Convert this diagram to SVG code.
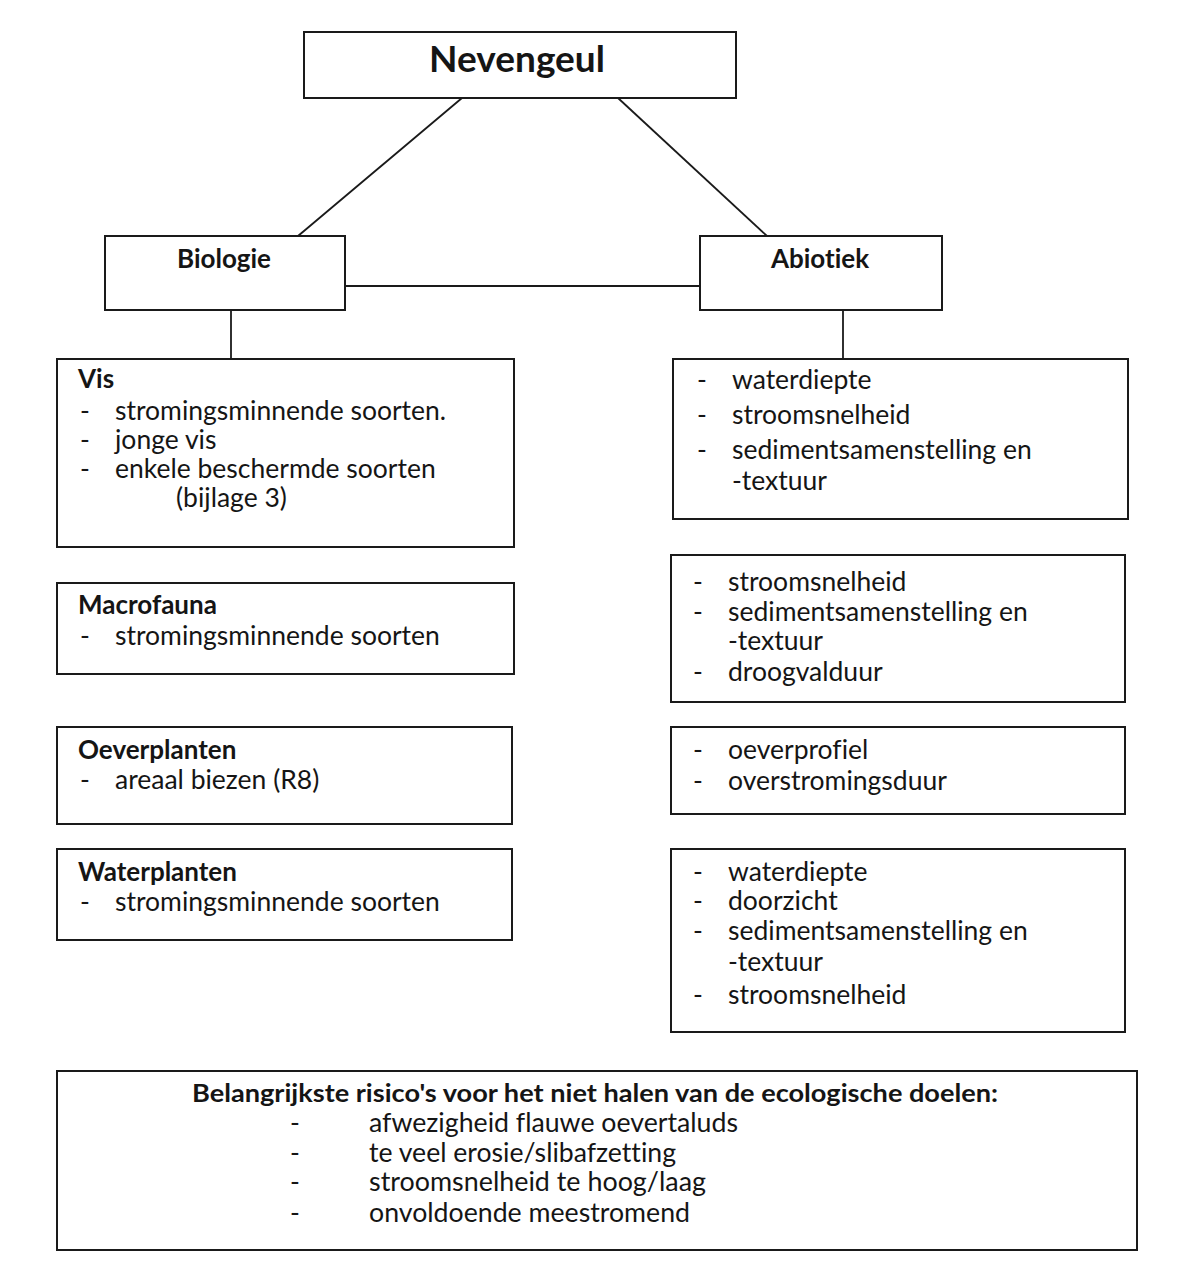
<svg xmlns="http://www.w3.org/2000/svg" width="1185" height="1265" viewBox="0 0 1185 1265">
<style>
.box{fill:#fff;stroke:#1a1a1a;stroke-width:2}
.ln{stroke:#1a1a1a;stroke-width:1.8;fill:none}
text{font-family:Lato,"Open Sans","Liberation Sans",sans-serif;fill:#151515;font-variant-ligatures:none}
.t{font-size:26.5px}
.h{font-size:26px;font-weight:bold}
</style>
<rect width="1185" height="1265" fill="#fff"/>
<g id="connectors">
<line class="ln" x1="462" y1="98" x2="298" y2="236"/>
<line class="ln" x1="618" y1="98" x2="767" y2="236"/>
<line class="ln" x1="345" y1="286" x2="700" y2="286"/>
<line class="ln" x1="231" y1="310" x2="231" y2="359"/>
<line class="ln" x1="843" y1="310" x2="843" y2="359"/>
</g>
<g id="nevengeul">
<rect class="box" x="304" y="32" width="432" height="66"/>
<text x="517" y="72" text-anchor="middle" font-size="37" font-weight="bold">Nevengeul</text>
</g>
<g id="biologie">
<rect class="box" x="105" y="236" width="240" height="74"/>
<text x="224" y="268" text-anchor="middle" class="h">Biologie</text>
</g>
<g id="abiotiek">
<rect class="box" x="700" y="236" width="242" height="74"/>
<text x="820" y="268" text-anchor="middle" class="h">Abiotiek</text>
</g>
<g id="vis">
<rect class="box" x="57" y="359" width="457" height="188"/>
<text x="78" y="388" class="h">Vis</text>
<text class="t" x="80" y="420">-</text><text class="t" x="115" y="420">stromingsminnende soorten.</text>
<text class="t" x="80" y="449">-</text><text class="t" x="115" y="449">jonge vis</text>
<text class="t" x="80" y="478">-</text><text class="t" x="115" y="478">enkele beschermde soorten</text>
<text class="t" x="176" y="507">(bijlage 3)</text>
</g>
<g id="macrofauna">
<rect class="box" x="57" y="583" width="457" height="91"/>
<text x="78" y="614" class="h">Macrofauna</text>
<text class="t" x="80" y="645">-</text><text class="t" x="115" y="645">stromingsminnende soorten</text>
</g>
<g id="oeverplanten">
<rect class="box" x="57" y="727" width="455" height="97"/>
<text x="78" y="759" class="h">Oeverplanten</text>
<text class="t" x="80" y="789">-</text><text class="t" x="115" y="789">areaal biezen (R8)</text>
</g>
<g id="waterplanten">
<rect class="box" x="57" y="849" width="455" height="91"/>
<text x="78" y="881" class="h">Waterplanten</text>
<text class="t" x="80" y="911">-</text><text class="t" x="115" y="911">stromingsminnende soorten</text>
</g>
<g id="abio1">
<rect class="box" x="673" y="359" width="455" height="160"/>
<text class="t" x="697" y="389">-</text><text class="t" x="732" y="389">waterdiepte</text>
<text class="t" x="697" y="424">-</text><text class="t" x="732" y="424">stroomsnelheid</text>
<text class="t" x="697" y="459">-</text><text class="t" x="732" y="459">sedimentsamenstelling en</text>
<text class="t" x="732" y="490">-textuur</text>
</g>
<g id="abio2">
<rect class="box" x="671" y="555" width="454" height="147"/>
<text class="t" x="693" y="591">-</text><text class="t" x="728" y="591">stroomsnelheid</text>
<text class="t" x="693" y="621">-</text><text class="t" x="728" y="621">sedimentsamenstelling en</text>
<text class="t" x="728" y="650">-textuur</text>
<text class="t" x="693" y="681">-</text><text class="t" x="728" y="681">droogvalduur</text>
</g>
<g id="abio3">
<rect class="box" x="671" y="727" width="454" height="87"/>
<text class="t" x="693" y="759">-</text><text class="t" x="728" y="759">oeverprofiel</text>
<text class="t" x="693" y="790">-</text><text class="t" x="728" y="790">overstromingsduur</text>
</g>
<g id="abio4">
<rect class="box" x="671" y="849" width="454" height="183"/>
<text class="t" x="693" y="881">-</text><text class="t" x="728" y="881">waterdiepte</text>
<text class="t" x="693" y="910">-</text><text class="t" x="728" y="910">doorzicht</text>
<text class="t" x="693" y="940">-</text><text class="t" x="728" y="940">sedimentsamenstelling en</text>
<text class="t" x="728" y="971">-textuur</text>
<text class="t" x="693" y="1004">-</text><text class="t" x="728" y="1004">stroomsnelheid</text>
</g>
<g id="risicos">
<rect class="box" x="57" y="1071" width="1080" height="179"/>
<text x="192" y="1102" font-size="24" font-weight="bold" textLength="806" lengthAdjust="spacingAndGlyphs">Belangrijkste risico's voor het niet halen van de ecologische doelen:</text>
<text class="t" x="290" y="1132">-</text><text class="t" x="369" y="1132" textLength="369" lengthAdjust="spacingAndGlyphs">afwezigheid flauwe oevertaluds</text>
<text class="t" x="290" y="1162">-</text><text class="t" x="369" y="1162" textLength="307" lengthAdjust="spacingAndGlyphs">te veel erosie/slibafzetting</text>
<text class="t" x="290" y="1191">-</text><text class="t" x="369" y="1191" textLength="337" lengthAdjust="spacingAndGlyphs">stroomsnelheid te hoog/laag</text>
<text class="t" x="290" y="1222">-</text><text class="t" x="369" y="1222" textLength="321" lengthAdjust="spacingAndGlyphs">onvoldoende meestromend</text>
</g>
</svg>
